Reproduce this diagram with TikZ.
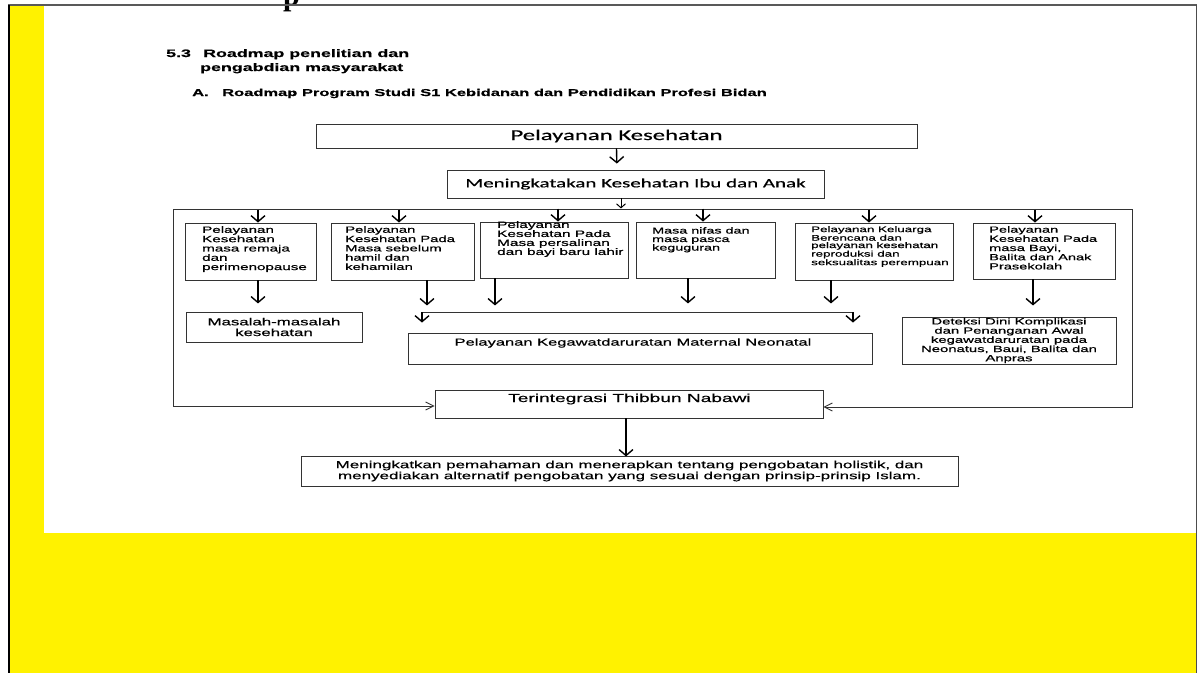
\documentclass[tikz,border=0pt]{standalone}
\usepackage{fontspec}
\setmainfont{Liberation Serif}
\newfontfamily\arialw[FakeStretch=1.65, FakeBold=0.6]{Liberation Sans}
\newfontfamily\calibw[FakeStretch=1.65, FakeBold=0.5]{Carlito}
\newcommand\arialfs[2]{\arialw\fontsize{#1}{#2}\selectfont}
\newcommand\calibfs[2]{\calibw\fontsize{#1}{#2}\selectfont}
\usetikzlibrary{arrows.meta}

\begin{document}
\begin{tikzpicture}[x=1pt, y=-1pt,
  box/.style={draw=black!80, line width=0.9pt, inner sep=0pt},
  down/.style={line width=1.4pt, -{Straight Barb[length=6pt,width=14pt,line width=1.4pt]}},
  tick/.style={line width=1pt, -{Straight Barb[length=4pt,width=9pt,line width=1pt]}},
  side/.style={line width=0.9pt, draw=black!80, -{Straight Barb[length=8pt,width=8pt,line width=0.9pt]}},
  txt/.style={inner sep=0pt, align=left, anchor=north west},
  head/.style={inner sep=0pt, anchor=base west}]

\useasboundingbox (0,0) rectangle (1203,673);
% page
\fill[yellow] (9,5) rectangle (1196,673);
\fill[white] (44,6) rectangle (1196,533);
\node[head, font=\bfseries\fontsize{30}{30}\selectfont] (hd) at (283,5) {p};
\draw[black!65, line width=1.2pt] (8,5) -- (1197,5);
\draw[black, line width=1.5pt] (9,5) -- (9,673);
\draw[black!70, line width=1.5pt] (1196.5,5) -- (1196.5,673);

% headings
\node[head, font=\arialfs{10.8}{12}\bfseries] (sec) at (166,57) {5.3};
\node[head, font=\arialfs{10.8}{12}\bfseries] (sect) at (203,57) {Roadmap penelitian dan};
\node[head, font=\arialfs{10.8}{12}\bfseries] (secb) at (200,71) {pengabdian masyarakat};
\node[head, font=\arialfs{10}{12}\bfseries] (sub) at (192,96) {A.};
\node[head, font=\arialfs{10}{12}\bfseries] (subt) at (222,96) {Roadmap Program Studi S1 Kebidanan dan Pendidikan Profesi Bidan};

% boxes
\node[box, minimum width=601, minimum height=24, font=\calibfs{15}{17}] (pk) at (616.5,136) {Pelayanan Kesehatan};
\node[box, minimum width=377, minimum height=28, font=\calibfs{12.7}{14}] (mk) at (635.5,184) {Meningkatakan Kesehatan Ibu dan Anak};
\node[box, minimum width=131, minimum height=57] (b1) at (250.5,251.5) {};
\node[box, minimum width=143, minimum height=57] (b2) at (402.5,251.5) {};
\node[box, minimum width=148, minimum height=56] (b3) at (554,250) {};
\node[box, minimum width=139, minimum height=56] (b4) at (705.5,250) {};
\node[box, minimum width=158, minimum height=57] (b5) at (874,251.5) {};
\node[box, minimum width=142, minimum height=56] (b6) at (1044,251) {};
\node[box, minimum width=176, minimum height=30, align=center, font=\arialfs{10.2}{10.7}] (mm) at (274,327) {Masalah-masalah\\kesehatan};
\node[box, minimum width=464, minimum height=31] (kg) at (640,348.5) {};
\node[box, minimum width=214, minimum height=47, align=center, font=\arialfs{9}{9.2}] (dd) at (1009,340.5) {Deteksi Dini Komplikasi\\dan Penanganan Awal\\kegawatdaruratan pada\\Neonatus, Baui, Balita dan\\Anpras};
\node[box, minimum width=388, minimum height=28] (ti) at (629,404) {};
\node[box, minimum width=657, minimum height=30, align=center, font=\arialfs{10.3}{11}] (fb) at (629.5,471) {Meningkatkan pemahaman dan menerapkan tentang pengobatan holistik, dan\\menyediakan alternatif pengobatan yang sesuai dengan prinsip-prinsip Islam.};

% texts in boxes
\node[txt, font=\arialfs{9.2}{9.3}] (t1) at (202,226) {Pelayanan\\Kesehatan\\masa remaja\\dan\\perimenopause};
\node[txt, font=\arialfs{9}{9.3}] (t2) at (345,226) {Pelayanan\\Kesehatan Pada\\Masa sebelum\\hamil dan\\kehamilan};
\node[txt, font=\arialfs{9.3}{9}] (t3) at (497,221) {Pelayanan\\Kesehatan Pada\\Masa persalinan\\dan bayi baru lahir};
\node[txt, font=\arialfs{8.7}{8.5}] (t4) at (652,227) {Masa nifas dan\\masa pasca\\keguguran};
\node[txt, font=\arialfs{8.1}{7.4}] (t5) at (811,226) {Pelayanan Keluarga\\Berencana dan\\pelayanan kesehatan\\reproduksi dan\\seksualitas perempuan};
\node[txt, font=\arialfs{8.85}{9.2}] (t6) at (989,226) {Pelayanan\\Kesehatan Pada\\masa Bayi,\\Balita dan Anak\\Prasekolah};
\node[inner sep=0pt, font=\arialfs{10}{12}] (tkg) at (633,343) {Pelayanan Kegawatdaruratan Maternal Neonatal};
\node[inner sep=0pt, font=\arialfs{11.6}{13}] (tti) at (629.5,399) {Terintegrasi Thibbun Nabawi};

% frame and joint line
\coordinate (ftl) at (173,209);
\coordinate (ftr) at (1132,209);
\coordinate (fbl) at (173,406);
\coordinate (fbr) at (1132,407);
\coordinate (jl) at (422,312);
\coordinate (jr) at (853,312);

% connectors
\draw[down, shorten >=6] (pk.south) -- ([xshift=-18.5]mk.north);
\draw[tick] ([xshift=-14.5]mk.south) -- ++(0,10);
\draw[black!80, line width=0.9pt] (ftl) -- (ftr);
\draw[side] (ftl) -- (fbl) -- (ti.west |- fbl);
\draw[side] (ftr) -- (fbr) -- (ti.east |- fbr);
\foreach \b/\dx in {b1/7.5, b2/-3.5, b3/4, b4/-2.5, b5/-5, b6/-9}
  \draw[down] ([xshift=\dx]\b.north) ++(0,-13) -- ([xshift=\dx]\b.north);
\draw[down] ([xshift=7.5]b1.south) -- ++(0,23);
\draw[down] ([xshift=24.5]b2.south) -- ++(0,25);
\draw[down] ([xshift=-59]b3.south) -- ++(0,27);
\draw[down] ([xshift=-17.5]b4.south) -- ++(0,25);
\draw[down] ([xshift=-43]b5.south) -- ++(0,23);
\draw[down] ([xshift=-11]b6.south) -- ++(0,26);
\draw[black!80, line width=1pt] (jl) -- (jr);
\draw[down, shorten >=10] (jl) -- (jl |- kg.north);
\draw[down, shorten >=10] (jr) -- (jr |- kg.north);
\draw[down] ([xshift=-3]ti.south) -- ++(0,38);
\end{tikzpicture}
\end{document}
